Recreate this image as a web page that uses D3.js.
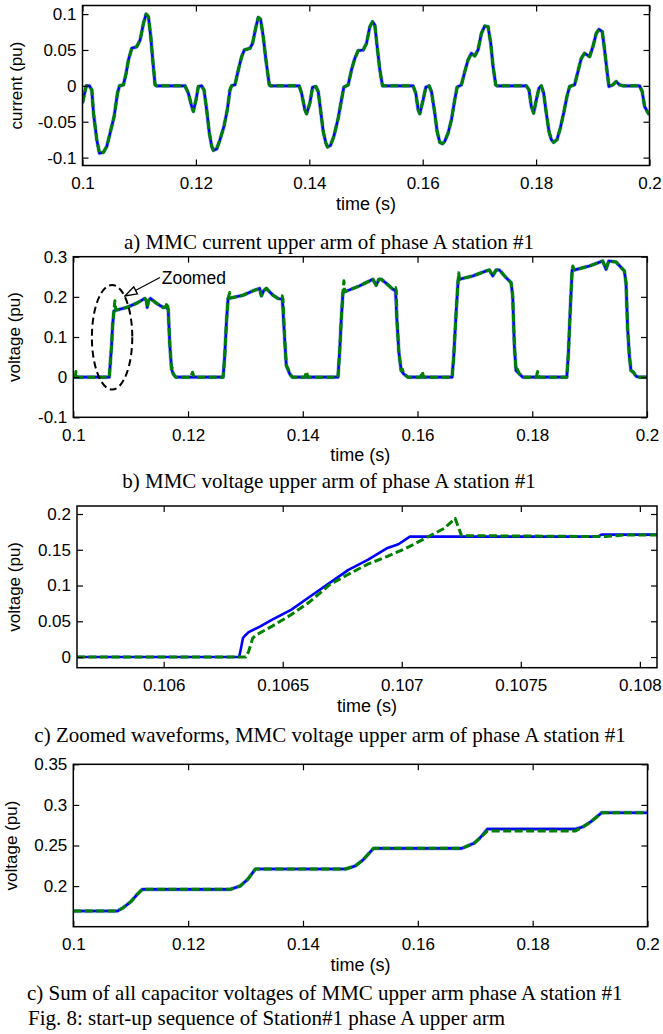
<!DOCTYPE html>
<html><head><meta charset="utf-8">
<script src="https://cdn.jsdelivr.net/npm/d3@7"></script>
<style>
body{margin:0;background:#fff;}
svg{display:block;}
</style></head><body>
<svg id="fig" width="663" height="1034"></svg>
<script>
// ---------------- DATA ----------------
// a) arm current (pu) vs time (s)
const currentT = [0.1,0.10065,0.10123,0.10164,0.10194,0.10252,0.10299,0.10370,0.10429,0.10487,0.10558,0.10617,0.10652,0.10722,0.10769,0.10810,0.10869,0.10957,0.11016,0.11075,0.11121,0.11163,0.11204,0.11239,0.11280,0.11309,
0.11808,0.11867,0.11926,0.11955,0.12002,0.12043,0.12102,0.12143,0.12190,0.12237,0.12278,0.12308,0.12366,0.12425,0.12495,0.12554,0.12601,0.12630,0.12689,0.12748,0.12807,0.12854,0.12953,0.13000,0.13059,0.13100,0.13141,0.13188,0.13235,0.13294,0.13317,
0.13822,0.13864,0.13922,0.13952,0.14010,0.14057,0.14116,0.14157,0.14198,0.14245,0.14292,0.14322,0.14374,0.14433,0.14510,0.14568,0.14609,0.14686,0.14744,0.14803,0.14862,0.14951,0.15009,0.15068,0.15115,0.15156,0.15197,0.15244,0.15291,
0.15831,0.15878,0.15920,0.15949,0.16008,0.16055,0.16113,0.16154,0.16213,0.16254,0.16301,0.16348,0.16389,0.16448,0.16507,0.16565,0.16607,0.16683,0.16742,0.16800,0.16859,0.16918,0.16976,0.17035,0.17094,0.17153,0.17200,0.17241,0.17288,0.17311,
0.17828,0.17875,0.17916,0.17957,0.18004,0.18051,0.18092,0.18133,0.18180,0.18227,0.18268,0.18309,0.18368,0.18427,0.18486,0.18544,0.18591,0.18679,0.18738,0.18797,0.18856,0.18944,0.19002,0.19061,0.19108,0.19167,0.19208,0.19249,0.19284,0.19354,0.19413,0.19471,0.19531,
0.19825,0.19871,0.19913,0.19977,0.2];
const currentV = [-0.024,0,0,-0.0056,-0.038,-0.075,-0.094,-0.0926,-0.0843,-0.0657,-0.0426,-0.0102,0,0.0014,0.0176,0.0361,0.0523,0.0546,0.0639,0.0870,0.1000,0.0963,0.0685,0.0361,0.0014,0,
0,-0.0102,-0.0287,-0.0356,-0.0194,-0.0009,0,-0.0056,-0.0333,-0.0657,-0.0843,-0.0898,-0.0880,-0.0750,-0.0565,-0.0333,-0.0056,0,0.0014,0.0222,0.0407,0.0500,0.0523,0.0593,0.0824,0.0954,0.0926,0.0685,0.0361,0.0014,0,
0,-0.0102,-0.0333,-0.0389,-0.0241,-0.0019,-0.0009,-0.0079,-0.0333,-0.0634,-0.0796,-0.0852,-0.0829,-0.0704,-0.0449,-0.0194,-0.0019,0.0014,0.0222,0.0384,0.0490,0.0500,0.0593,0.0824,0.0894,0.0847,0.0546,0.0222,0,
0,-0.0102,-0.0333,-0.0389,-0.0194,-0.0019,0,-0.0079,-0.0380,-0.0634,-0.0787,-0.0806,-0.0773,-0.0657,-0.0472,-0.0194,-0.0019,0.0014,0.0199,0.0361,0.0454,0.0417,0.0500,0.0731,0.0833,0.0824,0.0593,0.0269,0.0014,0,
0,-0.0056,-0.0287,-0.0380,-0.0194,-0.0032,0,-0.0102,-0.0380,-0.0634,-0.0750,-0.0787,-0.0750,-0.0588,-0.0380,-0.0148,-0.0009,0.0014,0.0199,0.0384,0.0454,0.0407,0.0546,0.0731,0.0787,0.0755,0.0500,0.0222,-0.0009,0.0014,0.0060,0.0014,0,
0,-0.0079,-0.0287,-0.0380,-0.0400];

// b) arm voltage (pu): blue = reference, green = dashed model (with switching spikes)
const voltBlueT = [0.1,0.10627,0.10650,0.10667,0.10685,0.10708,0.10754,0.10928,0.11102,0.11247,0.11276,0.11288,0.11311,0.11346,0.11450,0.11567,0.11613,0.11654,0.11683,0.11712,0.11741,0.11787,
0.12611,0.12640,0.12669,0.12698,0.12739,0.12959,0.13133,0.13249,0.13278,0.13318,0.13365,0.13481,0.13568,0.13644,0.13684,0.13713,0.13771,0.13818,
0.14613,0.14642,0.14671,0.14700,0.14729,0.14990,0.15222,0.15280,0.15327,0.15367,0.15454,0.15570,0.15617,0.15640,0.15675,0.15715,0.15756,0.15832,
0.16603,0.16632,0.16673,0.16707,0.16730,0.16962,0.17194,0.17253,0.17311,0.17369,0.17427,0.17543,0.17630,0.17659,0.17688,0.17717,0.17775,0.17833,
0.18602,0.18631,0.18660,0.18695,0.18735,0.18996,0.19228,0.19286,0.19333,0.19460,0.19605,0.19634,0.19663,0.19692,0.19721,0.19762,0.19808,0.19866,0.2];
const voltBlueV = [0,0,0.0455,0.0785,0.128,0.165,0.167,0.1736,0.184,0.196,0.190,0.1736,0.190,0.196,0.184,0.1736,0.175,0.169,0.0785,0.0207,0.0083,0,
0,0.0537,0.136,0.196,0.197,0.204,0.215,0.221,0.2025,0.215,0.221,0.204,0.196,0.194,0.095,0.029,0.0083,0,
0,0.062,0.1446,0.2107,0.2124,0.2273,0.2438,0.2289,0.2438,0.2438,0.2339,0.2190,0.2149,0.1446,0.062,0.0165,0.0083,0,
0,0.0537,0.161,0.2397,0.2438,0.2521,0.2645,0.2669,0.2521,0.2669,0.2669,0.2479,0.2355,0.2025,0.0785,0.0165,0.0083,0,
0,0.062,0.161,0.2669,0.2669,0.2769,0.2893,0.2686,0.2893,0.2868,0.2645,0.2355,0.1198,0.0537,0.0165,0.0124,0.0025,0,0];
const voltGreenT = [0.1,0.10030,0.10046,0.10070,0.10627,0.10650,0.10667,0.10685,0.10708,0.10725,0.10740,0.10754,0.10928,0.11102,0.11247,0.11276,0.11288,0.11311,0.11346,0.11450,0.11567,0.11613,0.11636,0.11654,0.11683,0.11712,0.11730,0.11741,0.11787,
0.12048,0.12077,0.12106,0.12611,0.12640,0.12669,0.12698,0.12727,0.12739,0.12959,0.13133,0.13249,0.13278,0.13318,0.13365,0.13481,0.13568,0.13640,0.13655,0.13684,0.13713,0.13740,0.13771,0.13818,
0.14035,0.14062,0.14090,0.14613,0.14642,0.14671,0.14700,0.14717,0.14729,0.14990,0.15222,0.15280,0.15327,0.15367,0.15454,0.15570,0.15617,0.15630,0.15640,0.15675,0.15715,0.15735,0.15756,0.15832,
0.16055,0.16081,0.16107,0.16603,0.16632,0.16673,0.16707,0.16719,0.16730,0.16962,0.17194,0.17253,0.17311,0.17369,0.17427,0.17543,0.17630,0.17659,0.17688,0.17717,0.17740,0.17775,0.17833,
0.18068,0.18094,0.18120,0.18602,0.18631,0.18660,0.18695,0.18707,0.18735,0.18996,0.19228,0.19286,0.19333,0.19460,0.19605,0.19634,0.19663,0.19692,0.19721,0.19762,0.19808,0.19866,0.2];
const voltGreenV = [0,0,0.014,0,0,0.0455,0.0785,0.128,0.165,0.19,0.168,0.167,0.1736,0.184,0.196,0.190,0.1736,0.190,0.196,0.184,0.1736,0.175,0.186,0.169,0.0785,0.0207,0.022,0.0083,0,
0,0.0124,0,0,0.0537,0.136,0.196,0.211,0.197,0.204,0.215,0.221,0.2025,0.215,0.221,0.204,0.196,0.2025,0.194,0.095,0.029,0.022,0.0083,0,
0,0.014,0,0,0.062,0.1446,0.2107,0.24,0.2124,0.2273,0.2438,0.2289,0.2438,0.2438,0.2339,0.2190,0.2231,0.2149,0.1446,0.062,0.0165,0.02,0.0083,0,
0,0.014,0,0,0.0537,0.161,0.2397,0.26,0.2438,0.2521,0.2645,0.2669,0.2521,0.2669,0.2669,0.2479,0.2355,0.2025,0.0785,0.0165,0.02,0.0083,0,
0,0.014,0,0,0.062,0.161,0.2669,0.2769,0.2669,0.2769,0.2893,0.2686,0.2893,0.2868,0.2645,0.2355,0.1198,0.0537,0.0165,0.0124,0.0025,0,0];

// c) zoomed arm voltage (pu)
const zoomBlueT = [0.105636,0.106317,0.106325,0.106333,0.106341,0.106357,0.106406,0.106454,0.106535,0.106615,0.106696,0.106776,0.106857,0.106937,0.106986,0.107034,0.107823,0.107839,0.108072];
const zoomBlueV = [0,0,0.0126,0.0265,0.0298,0.0349,0.0428,0.0521,0.0660,0.0847,0.1033,0.1219,0.1358,0.1521,0.1577,0.1684,0.1684,0.1712,0.1712];
const zoomGreenT = [0.105636,0.106345,0.106357,0.106374,0.106390,0.106454,0.106535,0.106615,0.106696,0.106776,0.106857,0.106937,0.107018,0.107098,0.107179,0.107224,0.107251,0.107855,0.107936,0.108072];
const zoomGreenV = [0,0,0.0079,0.0265,0.0312,0.0428,0.0591,0.0777,0.1009,0.1158,0.1298,0.1405,0.1521,0.1660,0.1800,0.1940,0.1698,0.1684,0.1707,0.1707];

// d) sum of capacitor voltages (pu)
const capT = [0.1,0.10768,0.10868,0.11002,0.11102,0.11202,0.12738,0.12905,0.13038,0.13172,0.14741,0.14908,0.15042,0.15229,0.16765,0.16978,0.17078,0.17212,0.18748,0.18881,0.19015,0.19202,0.2];
const capBlueV = [0.1693,0.1693,0.1734,0.1808,0.189,0.196,0.196,0.2,0.2084,0.221,0.221,0.2247,0.232,0.2465,0.2465,0.2527,0.2589,0.2703,0.2703,0.2732,0.2793,0.2904,0.2904];
const capGreenV = [0.1693,0.1693,0.1734,0.1808,0.189,0.196,0.196,0.2,0.2084,0.221,0.221,0.2247,0.232,0.2465,0.2465,0.2527,0.2589,0.2680,0.2680,0.2732,0.2793,0.2904,0.2904];

// ticks
const timeTicks = [0.1,0.12,0.14,0.16,0.18,0.2];
const timeLabels = ["0.1","0.12","0.14","0.16","0.18","0.2"];
const zoomTicks = [0.106,0.1065,0.107,0.1075,0.108];
const zoomLabels = ["0.106","0.1065","0.107","0.1075","0.108"];
const aYTicks = [-0.1,-0.05,0,0.05,0.1];
const aYLabels = ["-0.1","-0.05","0","0.05","0.1"];
const bYTicks = [-0.1,0,0.1,0.2,0.3];
const bYLabels = ["-0.1","0","0.1","0.2","0.3"];
const cYTicks = [0,0.05,0.1,0.15,0.2];
const cYLabels = ["0","0.05","0.1","0.15","0.2"];
const dYTicks = [0.2,0.25,0.3,0.35];
const dYLabels = ["0.2","0.25","0.3","0.35"];

// annotation in panel b (data coordinates)
const ellipseCenter = [0.10676, 0.0994];
const ellipseRadii = [0.00352, 0.1303];
const arrowFrom = [0.11511, 0.248];
const arrowTo = [0.10901, 0.2022];
const zoomedLabelAt = [0.11541, 0.2314];

const captions = [
  "a) MMC current upper arm of phase A station #1",
  "b) MMC voltage upper arm of phase A station #1",
  "c) Zoomed waveforms, MMC voltage upper arm of phase A station #1",
  "c) Sum of all capacitor voltages of MMC upper arm phase A station #1",
  "Fig. 8: start-up sequence of Station#1 phase A upper arm"
];

// ---------------- DRAWING ----------------
const svg = d3.select("#fig");
svg.append("rect").attr("width",663).attr("height",1034).attr("fill","#fff");
const SANS = "'Liberation Sans', Arial, Helvetica, sans-serif";
const SERIF = "'Liberation Serif', 'Times New Roman', serif";
const BLUE = "#0000ff", GREEN = "#008000", HALO = "#a9bde0";

const defs = svg.append("defs");
defs.append("marker").attr("id","arrowHead").attr("viewBox","0 0 14 10")
  .attr("refX",13).attr("refY",5).attr("markerWidth",14).attr("markerHeight",10)
  .attr("markerUnits","userSpaceOnUse").attr("orient","auto")
  .append("path").attr("d","M1,1 L13,5 L1,9 Z").attr("fill","#fff").attr("stroke","#000").attr("stroke-width",1.4);

function zip(ts, vs){ return ts.map((t,i)=>[t, vs[i]]); }

function panel(cfg){
  const g = svg.append("g");
  const x = d3.scaleLinear().domain(cfg.xDomain).range([cfg.left, cfg.right]);
  const y = d3.scaleLinear().domain(cfg.yDomain).range([cfg.bottom, cfg.top]);
  const cid = "clip_" + cfg.name;
  defs.append("clipPath").attr("id", cid).append("rect")
    .attr("x", cfg.left).attr("y", cfg.top).attr("width", cfg.right-cfg.left).attr("height", cfg.bottom-cfg.top);
  const line = d3.line().x(d=>x(d[0])).y(d=>y(d[1]));
  const lg = g.append("g").attr("clip-path", `url(#${cid})`);
  if (cfg.halo) {
    lg.append("path").datum(cfg.blue).attr("d", line).attr("fill","none")
      .attr("stroke", HALO).attr("stroke-width", 4.2).attr("stroke-linejoin","round").attr("opacity",0.8);
  }
  lg.append("path").datum(cfg.blue).attr("d", line).attr("fill","none")
    .attr("stroke", BLUE).attr("stroke-width", 2.6).attr("stroke-linejoin","round");
  lg.append("path").datum(cfg.green).attr("d", line).attr("fill","none")
    .attr("stroke", GREEN).attr("stroke-width", 3).attr("stroke-dasharray","8,3.5").attr("stroke-linejoin","round");

  const styleAxis = a => {
    a.select(".domain").remove();
    a.attr("font-family", SANS).attr("font-size", 17);
    a.selectAll(".tick line").attr("stroke","#000").attr("stroke-width",1.2);
    a.selectAll(".tick text").attr("fill","#000");
  };
  g.append("g").attr("transform",`translate(0,${cfg.bottom})`)
    .call(d3.axisBottom(x).tickValues(cfg.xTicks).tickFormat((d,i)=>cfg.xLabels[i]).tickSizeInner(-6).tickSizeOuter(0))
    .call(styleAxis)
    .call(a=>a.selectAll(".tick text").attr("y",23.5).attr("dy",null));
  g.append("g").attr("transform",`translate(0,${cfg.top})`)
    .call(d3.axisTop(x).tickValues(cfg.xTicks).tickFormat("").tickSizeInner(-6).tickSizeOuter(0))
    .call(styleAxis);
  g.append("g").attr("transform",`translate(${cfg.left},0)`)
    .call(d3.axisLeft(y).tickValues(cfg.yTicks).tickFormat((d,i)=>cfg.yLabels[i]).tickSizeInner(-6).tickSizeOuter(0).tickPadding(6))
    .call(styleAxis);
  g.append("g").attr("transform",`translate(${cfg.right},0)`)
    .call(d3.axisRight(y).tickValues(cfg.yTicks).tickFormat("").tickSizeInner(-6).tickSizeOuter(0))
    .call(styleAxis);

  g.append("rect").attr("x",cfg.left).attr("y",cfg.top)
    .attr("width",cfg.right-cfg.left).attr("height",cfg.bottom-cfg.top)
    .attr("fill","none").attr("stroke","#000").attr("stroke-width",1.5);

  g.append("text").attr("x",(cfg.left+cfg.right)/2).attr("y",cfg.bottom+44)
    .attr("text-anchor","middle").attr("font-family",SANS).attr("font-size",18).text("time (s)");
  g.append("text").attr("transform",`translate(${cfg.yTitleX},${(cfg.top+cfg.bottom)/2}) rotate(-90)`)
    .attr("text-anchor","middle").attr("font-family",SANS).attr("font-size",17).text(cfg.yTitle);
  return {x, y, g};
}

panel({name:"a", left:82.5, right:649.5, top:5.5, bottom:165.5,
  xDomain:[0.1,0.2], yDomain:[-0.111,0.112],
  xTicks:timeTicks, xLabels:timeLabels, yTicks:aYTicks, yLabels:aYLabels,
  blue:zip(currentT,currentV), green:zip(currentT,currentV), halo:true,
  yTitle:"current (pu)", yTitleX:21.5});

const pb = panel({name:"b", left:73.3, right:647, top:256.7, bottom:417.3,
  xDomain:[0.1,0.2], yDomain:[-0.1,0.3],
  xTicks:timeTicks, xLabels:timeLabels, yTicks:bYTicks, yLabels:bYLabels,
  blue:zip(voltBlueT,voltBlueV), green:zip(voltGreenT,voltGreenV), halo:true,
  yTitle:"voltage (pu)", yTitleX:19.5});

panel({name:"c", left:77, right:657, top:506, bottom:667.7,
  xDomain:[0.105636,0.108072], yDomain:[-0.0149,0.2112],
  xTicks:zoomTicks, xLabels:zoomLabels, yTicks:cYTicks, yLabels:cYLabels,
  blue:zip(zoomBlueT,zoomBlueV), green:zip(zoomGreenT,zoomGreenV), halo:false,
  yTitle:"voltage (pu)", yTitleX:19.5});

panel({name:"d", left:73.3, right:647.5, top:764.3, bottom:926.7,
  xDomain:[0.1,0.2], yDomain:[0.15,0.35],
  xTicks:timeTicks, xLabels:timeLabels, yTicks:dYTicks, yLabels:dYLabels,
  blue:zip(capT,capBlueV), green:zip(capT,capGreenV), halo:true,
  yTitle:"voltage (pu)", yTitleX:17});

// annotation on panel b
{
  const {x, y, g} = pb;
  const cx = x(ellipseCenter[0]), cy = y(ellipseCenter[1]);
  g.append("ellipse").attr("cx",cx).attr("cy",cy)
    .attr("rx", x(ellipseCenter[0]+ellipseRadii[0]) - cx)
    .attr("ry", y(0) - y(ellipseRadii[1]))
    .attr("fill","none").attr("stroke","#000").attr("stroke-width",2).attr("stroke-dasharray","7,4");
  g.append("line").attr("x1",x(arrowFrom[0])).attr("y1",y(arrowFrom[1]))
    .attr("x2",x(arrowTo[0])).attr("y2",y(arrowTo[1]))
    .attr("stroke","#000").attr("stroke-width",1.2).attr("marker-end","url(#arrowHead)");
  g.append("text").attr("x",x(zoomedLabelAt[0])).attr("y",y(zoomedLabelAt[1]))
    .attr("font-family",SANS).attr("font-size",17.5).text("Zoomed");
}

// captions
const capPos = [[329,249,"middle"],[329,488,"middle"],[330,742,"middle"],[27,1000,"start"],[28,1025,"start"]];
captions.forEach((c,i)=>{
  svg.append("text").attr("x",capPos[i][0]).attr("y",capPos[i][1]).attr("text-anchor",capPos[i][2])
    .attr("font-family",SERIF).attr("font-size",21).text(c);
});
</script>
</body></html>
